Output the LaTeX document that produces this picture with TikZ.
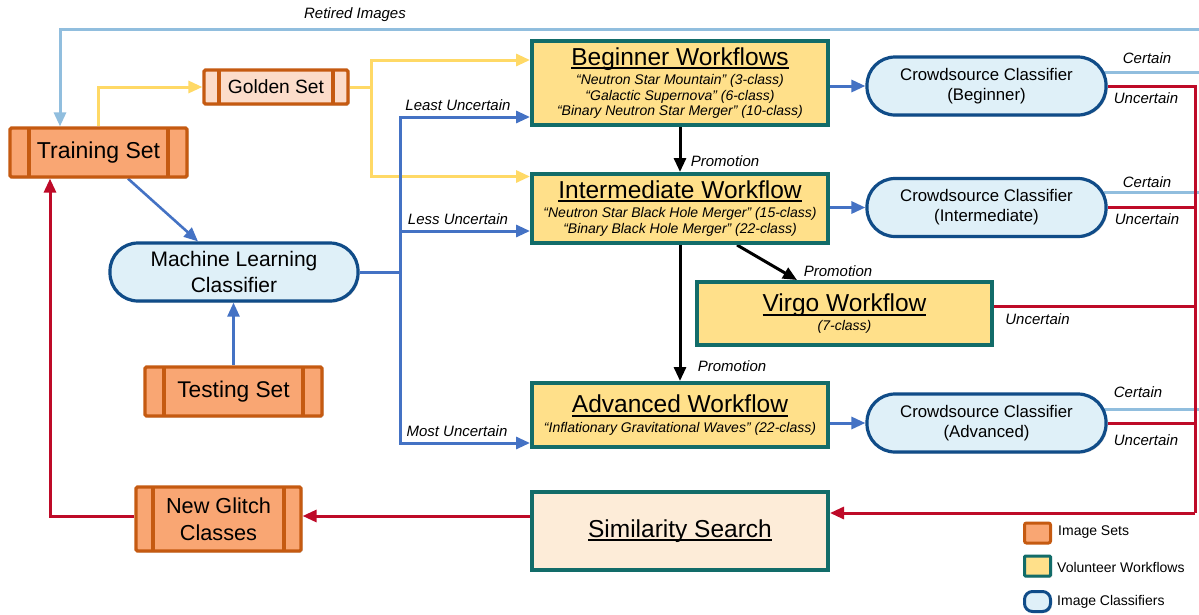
\documentclass[tikz,border=0pt]{standalone}
\usepackage{fontspec}
\setmainfont{Liberation Sans}
\usetikzlibrary{arrows.meta,shadows,backgrounds,calc}
\definecolor{orng}{RGB}{197,90,17}
\definecolor{orfill}{RGB}{249,166,115}
\definecolor{gofill}{RGB}{252,220,202}
\definecolor{tealb}{RGB}{18,108,105}
\definecolor{wffill}{RGB}{255,224,138}
\definecolor{ssfill}{RGB}{253,236,216}
\definecolor{clborder}{RGB}{16,76,136}
\definecolor{clfill}{RGB}{223,240,248}
\definecolor{cblue}{RGB}{68,114,196}
\definecolor{lblue}{RGB}{145,190,222}
\definecolor{cyel}{RGB}{255,217,102}
\definecolor{cred}{RGB}{190,10,40}
\newcommand{\ulx}[1]{\leavevmode\setbox0\hbox{#1}\rlap{\rule[-4pt]{\wd0}{2pt}}\box0}
\newcommand{\wft}[1]{\ulx{\upshape\fontsize{24.5}{28}\selectfont #1}}
\begin{document}
\begin{tikzpicture}[x=1pt,y=-1pt,
  shd/.style={drop shadow={shadow xshift=1.5pt,shadow yshift=-1.5pt,opacity=0.25,fill=black!60}},
  imgset/.style 2 args={draw=orng, line width=3.2pt, fill=#1, rounded corners=1.5pt, inner sep=0pt, shd,
    path picture={
      \draw[orng,line width=3.2pt] ([xshift=#2]path picture bounding box.north west) -- ([xshift=#2]path picture bounding box.south west);
      \draw[orng,line width=3.2pt] ([xshift=-#2]path picture bounding box.north east) -- ([xshift=-#2]path picture bounding box.south east);}},
  wf/.style={draw=tealb, line width=4pt, fill=wffill, inner sep=0pt, align=center, shd,
    font=\fontsize{14}{15.7}\selectfont\itshape},
  clf/.style={draw=clborder, line width=3.2pt, fill=clfill, inner sep=0pt, align=center, shd,
    rounded corners=28pt, minimum width=239pt, minimum height=58pt, font=\fontsize{16.8}{20}\selectfont},
  conn/.style={line width=3pt},
  tip/.style={-{Triangle[length=14pt,width=12pt]}},
  lbl/.style={font=\fontsize{15}{18}\selectfont\itshape, inner sep=0pt},
  lgt/.style={font=\fontsize{14}{16}\selectfont, anchor=west, inner sep=0pt}]
\useasboundingbox (0,0) rectangle (1199,614);

% ---------- nodes ----------
\node[imgset={orfill}{19pt}, minimum width=177pt, minimum height=49pt, font=\fontsize{23}{27}\selectfont] (ts) at (98.5,152.5) {Training Set};
\node[imgset={gofill}{15pt}, minimum width=144pt, minimum height=34pt, font=\fontsize{19.2}{23}\selectfont] (gs) at (276,87) {Golden Set};
\node[imgset={orfill}{19pt}, minimum width=177pt, minimum height=49pt, font=\fontsize{22.7}{27}\selectfont] (tes) at (233.5,391.5) {Testing Set};
\node[imgset={orfill}{17pt}, minimum width=165pt, minimum height=64pt, align=center, font=\fontsize{21.7}{27}\selectfont] (ngc) at (218.5,519) {New Glitch\\Classes};
\node[clf, minimum width=248pt, font=\fontsize{21}{26}\selectfont] (ml) at (234,272) {Machine Learning\\Classifier};

\node[wf, minimum width=296pt, minimum height=84pt] (bw) at (680,83)
  {\wft{Beginner Workflows}\\[3.5pt]“Neutron Star Mountain” (3-class)\\“Galactic Supernova” (6-class)\\“Binary Neutron Star Merger” (10-class)};
\node[wf, minimum width=296pt, minimum height=69pt] (iw) at (680,208.5)
  {\wft{Intermediate Workflow}\\[3.5pt]“Neutron Star Black Hole Merger” (15-class)\\“Binary Black Hole Merger” (22-class)};
\node[wf, minimum width=295pt, minimum height=63pt] (vw) at (844.5,313.5)
  {\wft{Virgo Workflow}\\[3pt](7-class)};
\node[wf, minimum width=296pt, minimum height=64pt] (aw) at (680,415)
  {\wft{Advanced Workflow}\\[3.5pt]“Inflationary Gravitational Waves” (22-class)};
\node[wf, fill=ssfill, minimum width=296pt, minimum height=78pt] (ss) at (680,531)
  {\wft{Similarity Search}};

\node[clf] (cb) at (986.5,86) {Crowdsource Classifier\\(Beginner)};
\node[clf] (ci) at (986.5,207.5) {Crowdsource Classifier\\(Intermediate)};
\node[clf] (ca) at (986.5,423) {Crowdsource Classifier\\(Advanced)};

% legend
\node[draw=orng, line width=3pt, fill=orfill, rounded corners=2pt, minimum width=26pt, minimum height=20pt, inner sep=0pt] (lg1) at (1037.5,533) {};
\node[draw=tealb, line width=3pt, fill=wffill, rounded corners=1pt, minimum width=26pt, minimum height=20pt, inner sep=0pt, shd] (lg2) at (1037.5,566) {};
\node[draw=clborder, line width=3pt, fill=clfill, rounded corners=8pt, minimum width=26pt, minimum height=20pt, inner sep=0pt, shd] (lg3) at (1037.5,601.5) {};
\node[lgt] (lt1) at (1058,532.5) {Image Sets};
\node[lgt] (lt2) at (1057,567) {Volunteer Workflows};
\node[lgt] (lt3) at (1057,602) {Image Classifiers};

% labels
\node[lbl] (lret) at (355,15) {Retired Images};
\node[lbl] (lleast) at (458,105) {Least Uncertain};
\node[lbl] (lless) at (458,219) {Less Uncertain};
\node[lbl] (lmost) at (457,431) {Most Uncertain};
\node[lbl] (lp1) at (725,161.5) {Promotion};
\node[lbl] (lp2) at (838,271.5) {Promotion};
\node[lbl] (lp3) at (732,366) {Promotion};
\node[lbl] (lc1) at (1147,58) {Certain};
\node[lbl] (lu1) at (1146,98) {Uncertain};
\node[lbl] (lc2) at (1147,182) {Certain};
\node[lbl] (lu2) at (1147,219) {Uncertain};
\node[lbl] (lc3) at (1138,392) {Certain};
\node[lbl] (lu3) at (1146,440) {Uncertain};
\node[lbl] (lu4) at (1037.5,319) {Uncertain};

% coordinates
\coordinate (retR) at (1215,29);
\coordinate (retL) at (60,29);
\coordinate (yj) at (371,87);
\coordinate (bj) at (400,272);
\coordinate (redbot) at (1195,513);
\coordinate (redL) at (50,516);

% ---------- connectors ----------
\begin{scope}[on background layer]
\fill[white] (0,0) rectangle (1199,614);
% retired images / certain
\draw[conn, lblue, tip] (retR) -- (retL) -- (retL |- ts.north);
\draw[conn, lblue] ([xshift=-4pt,yshift=14pt]cb.east) -- ([yshift=14pt]cb.east -| retR);
\draw[conn, lblue] ([xshift=-4pt,yshift=15pt]ci.east) -- ([yshift=15pt]ci.east -| retR);
\draw[conn, lblue] ([xshift=-4pt,yshift=14pt]ca.east) -- ([yshift=14pt]ca.east -| retR);
\draw[conn, lblue] ([yshift=14pt]ca.east -| retR) -- (retR);
% yellow
\draw[conn, cyel, tip] (ts.north) |- (gs.west);
\draw[conn, cyel] (gs.east) -- (yj);
\draw[conn, cyel, tip] (yj) |- ([yshift=23pt]bw.west);
\draw[conn, cyel, tip] (yj) |- ([yshift=32pt]iw.west);
% blue from ML
\draw[conn, cblue] (ml.east) -- (bj);
\draw[conn, cblue, tip] (bj) |- ([yshift=-34pt]bw.west);
\draw[conn, cblue, tip] (bj) |- ([yshift=-22.5pt]iw.west);
\draw[conn, cblue, tip] (bj) |- ([yshift=-28pt]aw.west);
\draw[line width=2.6pt, cblue, tip] ([xshift=29.5pt]ts.south) -- ([xshift=-36pt]ml.north);
\draw[line width=2.6pt, cblue, tip] (tes.north) -- (tes.north |- ml.south);
% workflows -> crowdsource
\draw[conn, cblue, tip] (bw.east |- cb.west) -- (cb.west);
\draw[conn, cblue, tip] (iw.east |- ci.west) -- (ci.west);
\draw[conn, cblue, tip] (aw.east |- ca.west) -- (ca.west);
% promotion
\draw[conn, black, tip] (bw.south) -- (iw.north);
\draw[conn, black, tip] (iw.south) -- (aw.north);
\draw[conn, black, tip] ([xshift=57pt]iw.south) -- ([xshift=-47.5pt]vw.north);
% uncertain (red)
\draw[conn, cred] (cb.east) -| (redbot);
\draw[conn, cred, tip] (redbot) -- (redbot -| ss.east);
\draw[conn, cred] (ci.east) -- (ci.east -| redbot);
\draw[conn, cred] (ca.east) -- (ca.east -| redbot);
\draw[conn, cred] ([yshift=7pt]vw.east) -- ([yshift=7pt]vw.east -| redbot);
\draw[conn, cred, tip] ([yshift=15pt]ss.west) -- ([yshift=15pt]ss.west -| ngc.east);
\draw[conn, cred, tip] ([yshift=3pt]ngc.west) -| (redL |- ts.south);
\end{scope}
\end{tikzpicture}
\end{document}
